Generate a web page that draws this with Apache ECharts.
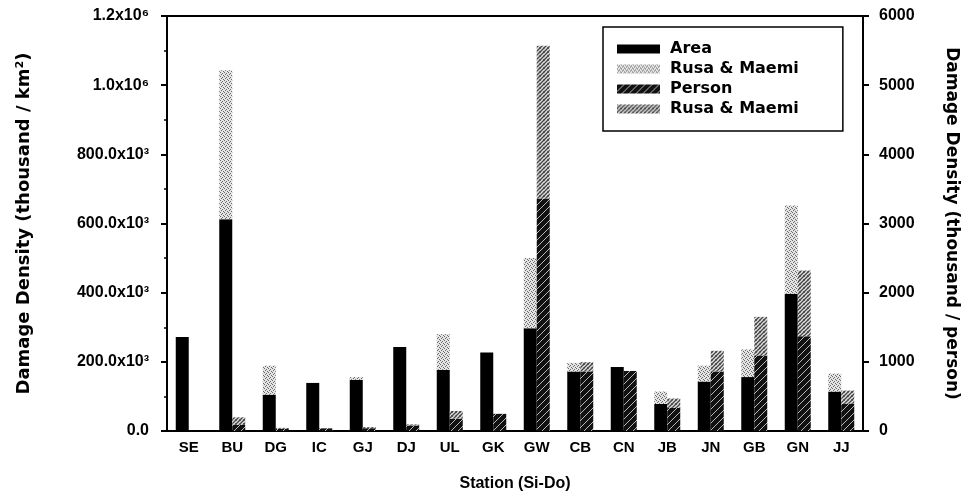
<!DOCTYPE html>
<html><head><meta charset="utf-8">
<script src="https://cdn.jsdelivr.net/npm/echarts@6/dist/echarts.min.js"></script>
<style>html,body{margin:0;padding:0;background:#fff}#c{width:968px;height:501px}</style>
</head><body><div id="c"></div>
<script>
// ---- data ----
const categories = ['SE','BU','DG','IC','GJ','DJ','UL','GK','GW','CB','CN','JB','JN','GB','GN','JJ'];
// damage density per area (thousand / km^2)
const areaDamage = [272000, 612000, 105000, 139000, 148000, 243000, 177000, 227000, 297000, 172000, 185000, 78000, 143000, 156000, 397000, 114000];
// extra from typhoons Rusa & Maemi (stacked on top, per area)
const areaRusa   = [0, 431000, 84000, 0, 8000, 0, 103000, 0, 203000, 25000, 0, 36000, 46000, 80000, 255000, 52000];
// damage density per person (thousand / person)
const personDamage = [0, 88, 32, 38, 40, 80, 178, 248, 3360, 860, 868, 335, 860, 1090, 1370, 395];
// extra from typhoons Rusa & Maemi (stacked on top, per person)
const personRusa   = [0, 110, 13, 0, 15, 15, 112, 0, 2210, 135, 0, 135, 300, 560, 950, 190];
const leftTicks  = ['0.0','200.0x10³','400.0x10³','600.0x10³','800.0x10³','1.0x10⁶','1.2x10⁶'];
const rightTicks = ['0','1000','2000','3000','4000','5000','6000'];
const seriesNames = ['Area','Rusa & Maemi (area)','Person','Rusa & Maemi (person)'];
const legendLabels = {'Area':'Area','Rusa & Maemi (area)':'Rusa & Maemi','Person':'Person','Rusa & Maemi (person)':'Rusa & Maemi'};

// ---- fill patterns ----
function makePattern(size, draw){
  const c = document.createElement('canvas');
  c.width = size; c.height = size;
  draw(c.getContext('2d'), size);
  return {image: c, repeat: 'repeat'};
}
function stipple(ctx, s){
  ctx.fillStyle = '#e4e4e4'; ctx.fillRect(0,0,s,s);
  ctx.fillStyle = '#6a6a6a';
  [[0,0],[2,1],[1,2],[3,3]].forEach(p=>ctx.fillRect(p[0],p[1],1,1));
}
const stipplePat = makePattern(4, stipple);
const hatchDark = makePattern(7, (ctx,s)=>{
  ctx.fillStyle = '#111'; ctx.fillRect(0,0,s,s);
  ctx.strokeStyle = '#b8b8b8'; ctx.lineWidth = 1;
  ctx.beginPath();
  ctx.moveTo(-1,s+1); ctx.lineTo(s+1,-1);
  ctx.stroke();
});
const hatchLight = makePattern(8, (ctx,s)=>{
  ctx.fillStyle = '#e0e0e0'; ctx.fillRect(0,0,s,s);
  ctx.fillStyle = '#777';
  [[0,0],[2,1],[4,0],[6,1],[1,2],[3,3],[5,2],[7,3],[0,4],[2,5],[4,4],[6,5],[1,6],[3,7],[5,6],[7,7]].forEach(p=>ctx.fillRect(p[0],p[1],1,1));
  ctx.strokeStyle = '#444'; ctx.lineWidth = 1.3;
  ctx.beginPath();
  ctx.moveTo(-1,s/2+1); ctx.lineTo(s/2+1,-1);
  ctx.moveTo(-1,s+1); ctx.lineTo(s+1,-1);
  ctx.moveTo(s/2-1,s+1); ctx.lineTo(s+1,s/2-1);
  ctx.stroke();
});

const tickFont = {fontFamily:'Liberation Sans, Arial, sans-serif', fontWeight:'bold', color:'#000'};
const titleFont = {fontFamily:'DejaVu Sans, sans-serif', fontWeight:'bold', fontSize:17, color:'#000'};

const chart = echarts.init(document.getElementById('c'), null, {renderer:'canvas'});
chart.setOption({
  animation:false,
  backgroundColor:'#fff',
  grid:{left:167, right:103, top:16, bottom:70, show:true, borderColor:'#000', borderWidth:2, backgroundColor:'transparent'},
  legend:{
    orient:'vertical', left:603, top:27,
    itemWidth:43, itemHeight:9, itemGap:4,
    padding:[14,44,14,14],
    borderColor:'#000', borderWidth:1.5,
    icon:'rect',
    data:seriesNames,
    formatter:n=>legendLabels[n],
    textStyle:{fontFamily:'DejaVu Sans, sans-serif', fontWeight:'bold', fontSize:16, color:'#000', lineHeight:16, padding:[0,0,0,5]}
  },
  xAxis:{
    type:'category', data:categories,
    axisLine:{lineStyle:{color:'#000', width:2}},
    axisTick:{alignWithLabel:true, length:5, lineStyle:{color:'#000', width:2}},
    axisLabel:Object.assign({fontSize:15, margin:9, interval:0}, tickFont),
    name:'Station (Si-Do)', nameLocation:'middle', nameGap:45,
    nameTextStyle:Object.assign({}, tickFont, {fontSize:16})
  },
  yAxis:[{
    type:'value', min:0, max:1200000, interval:200000, position:'left',
    axisLine:{show:true, lineStyle:{color:'#000', width:2}},
    axisTick:{show:true, length:6, lineStyle:{color:'#000', width:2}},
    minorTick:{show:true, splitNumber:2, length:3, lineStyle:{color:'#000', width:1.5}},
    splitLine:{show:false},
    axisLabel:Object.assign({fontSize:16, margin:18, formatter:v=>leftTicks[Math.round(v/200000)]}, tickFont),
    name:'Damage Density (thousand / km²)', nameLocation:'middle', nameGap:134, nameRotate:90,
    nameTextStyle:Object.assign({}, titleFont, {fontSize:18})
  },{
    type:'value', min:0, max:6000, interval:1000, position:'right',
    axisLine:{show:true, lineStyle:{color:'#000', width:2}},
    axisTick:{show:true, length:6, lineStyle:{color:'#000', width:2}},
    splitLine:{show:false},
    axisLabel:Object.assign({fontSize:16, margin:16, formatter:v=>rightTicks[Math.round(v/1000)]}, tickFont),
    name:'Damage Density (thousand / person)', nameLocation:'middle', nameGap:80, nameRotate:-90,
    nameTextStyle:titleFont
  }],
  series:[
    {name:seriesNames[0], type:'bar', stack:'area', yAxisIndex:0, barWidth:13, barGap:'0%', itemStyle:{color:'#000'}, data:areaDamage},
    {name:seriesNames[1], type:'bar', stack:'area', yAxisIndex:0, barWidth:13, barGap:'0%', itemStyle:{color:stipplePat}, data:areaRusa},
    {name:seriesNames[2], type:'bar', stack:'person', yAxisIndex:1, barWidth:13, barGap:'0%', itemStyle:{color:hatchDark}, data:personDamage},
    {name:seriesNames[3], type:'bar', stack:'person', yAxisIndex:1, barWidth:13, barGap:'0%', itemStyle:{color:hatchLight}, data:personRusa}
  ]
});
</script>
</body></html>
